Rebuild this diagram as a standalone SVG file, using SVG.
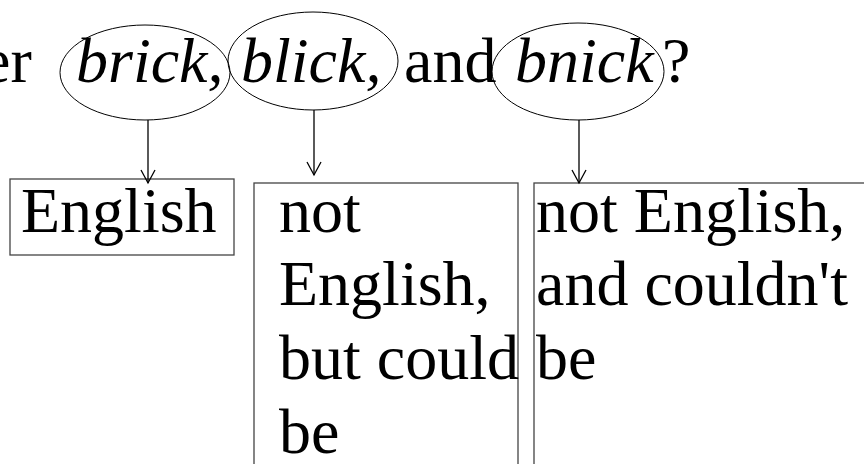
<svg xmlns="http://www.w3.org/2000/svg" width="864" height="464" viewBox="0 0 864 464">
  <style>
    text { font-family: "Liberation Serif", "Times New Roman", serif; font-size: 64px; fill: #000; }
    .it { font-style: italic; }
    .oval { fill: none; stroke: #000; stroke-width: 1; }
    .box { fill: none; stroke: #444; stroke-width: 1.3; }
    .conn { stroke: #000; stroke-width: 1.3; fill: none; }
  </style>
  <defs>
    <marker id="arr" markerUnits="userSpaceOnUse" markerWidth="16" markerHeight="16" refX="13" refY="7" orient="auto" overflow="visible">
      <path d="M0,0 L13,7 L0,14" fill="none" stroke="#000" stroke-width="1.3"/>
    </marker>
  </defs>
  <rect width="864" height="464" fill="#fff"/>

  <g id="sentence">
    <text x="-18" y="82">er</text>
    <text x="404" y="82">and</text>
    <text x="662" y="82">?</text>
  </g>

  <g id="brick">
    <ellipse class="oval" cx="145" cy="72.5" rx="85" ry="47.5"/>
    <text class="it" x="76" y="82">brick,</text>
  </g>
  <g id="blick">
    <ellipse class="oval" cx="313" cy="61" rx="85" ry="49"/>
    <text class="it" x="241" y="82">blick,</text>
  </g>
  <g id="bnick">
    <ellipse class="oval" cx="578" cy="71.5" rx="86" ry="48.5"/>
    <text class="it" x="515" y="82">bnick</text>
  </g>

  <g id="english">
    <rect class="box" x="10" y="179" width="224" height="76"/>
    <text x="21" y="231.5">English</text>
  </g>
  <g id="could-be">
    <rect class="box" x="254" y="183" width="264" height="300"/>
    <text x="279" y="231.5">not</text>
    <text x="279" y="305">English,</text>
    <text x="279" y="379">but could</text>
    <text x="279" y="453">be</text>
  </g>
  <g id="couldnt-be">
    <rect class="box" x="534" y="183" width="360" height="300"/>
    <text x="536" y="231.5">not English,</text>
    <text x="536" y="305">and couldn't</text>
    <text x="536" y="379">be</text>
  </g>

  <g id="connectors">
    <line class="conn" x1="148" y1="120" x2="148" y2="183" marker-end="url(#arr)"/>
    <line class="conn" x1="314" y1="110" x2="314" y2="175" marker-end="url(#arr)"/>
    <line class="conn" x1="579" y1="120" x2="579" y2="183" marker-end="url(#arr)"/>
  </g>
</svg>
